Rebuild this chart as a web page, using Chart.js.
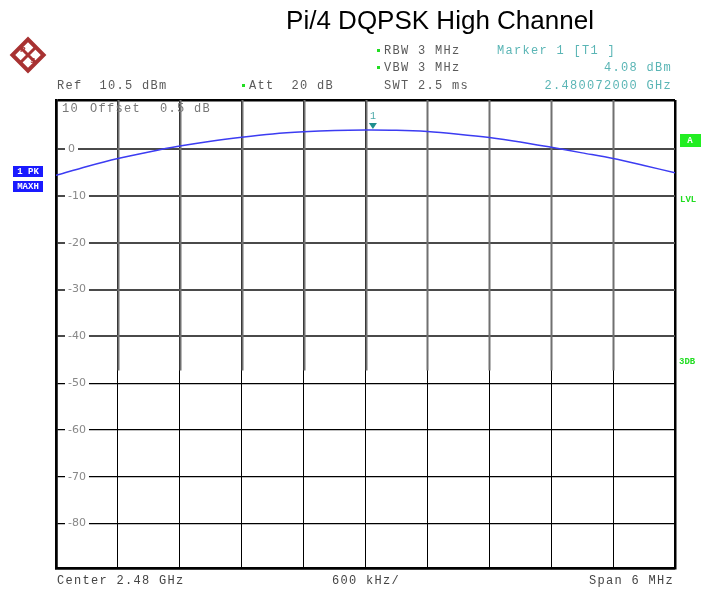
<!DOCTYPE html>
<html>
<head>
<meta charset="utf-8">
<script src="https://cdn.jsdelivr.net/npm/chart.js@4.4.1/dist/chart.umd.min.js"></script>
<style>
  body { margin: 0; background: #fff; }
  #wrap { position: relative; width: 707px; height: 592px; }
</style>
</head>
<body>
<div id="wrap"><canvas id="myChart" width="707" height="592"></canvas></div>
<script>
// trace (GHz / dBm)
const freqs = [2.4770, 2.4773, 2.4776, 2.4779, 2.4782, 2.4785, 2.4788, 2.4791, 2.4794, 2.4797,
               2.4800, 2.4803, 2.4806, 2.4809, 2.4812, 2.4815, 2.4818, 2.4821, 2.4824, 2.4827, 2.4830];
const levels = [-5.6, -3.7, -2.0, -0.6, 0.65, 1.7, 2.55, 3.25, 3.7, 3.98,
                4.07, 4.02, 3.75, 3.2, 2.5, 1.55, 0.4, -0.8, -2.0, -3.5, -5.05];
const xTicks = [2.4770, 2.4776, 2.4782, 2.4788, 2.4794, 2.4800, 2.4806, 2.4812, 2.4818, 2.4824, 2.4830];
const yTicks = [10.5, 0, -10, -20, -30, -40, -50, -60, -70, -80, -89.5];
const yLabels = ['0', '-10', '-20', '-30', '-40', '-50', '-60', '-70', '-80'];
const markerFreq = 2.480072;
const markerLevel = 4.08;

const mono = '"Liberation Mono", "DejaVu Sans Mono", monospace';

const screenText = {
  id: 'screenText',
  beforeDatasetsDraw(chart) {
    const c = chart.ctx, x = chart.scales.x, y = chart.scales.y;
    // upper part of the vertical grid looks grey on the screen shot
    c.save();
    c.strokeStyle = '#707070';
    c.lineWidth = 2;
    const yCut = y.getPixelForValue(-47.3);
    xTicks.slice(1, -1).forEach(v => {
      const px = Math.round(x.getPixelForValue(v)) + 0.5;
      c.beginPath(); c.moveTo(px, chart.chartArea.top); c.lineTo(px, yCut); c.stroke();
    });
    // level labels sitting on the grid lines
    c.font = '11px "DejaVu Sans", sans-serif';
    c.textBaseline = 'middle';
    yLabels.forEach(t => {
      const py = y.getPixelForValue(Number(t));
      const w = c.measureText(t).width;
      c.fillStyle = '#fff';
      c.fillRect(chart.chartArea.left + 9, py - 6, w + 6, 12);
      c.fillStyle = '#888';
      c.fillText(t, chart.chartArea.left + 12, py);
    });
    c.restore();
  },
  afterDraw(chart) {
    const c = chart.ctx, x = chart.scales.x, y = chart.scales.y;
    c.save();
    // marker
    const mx = x.getPixelForValue(markerFreq), my = y.getPixelForValue(markerLevel);
    c.fillStyle = '#1e8e8e';
    c.beginPath(); c.moveTo(mx - 4, my - 7); c.lineTo(mx + 4, my - 7); c.lineTo(mx, my - 1); c.closePath(); c.fill();
    c.font = '10px ' + mono;
    c.fillStyle = '#4aa8a8';
    c.textAlign = 'center';
    c.fillText('1', mx, my - 11);

    c.textAlign = 'left';
    c.textBaseline = 'middle';
    c.font = '12px ' + mono;
    c.letterSpacing = '1.3px';
    c.fillStyle = '#777';
    c.fillText('10', 62, 109);
    c.fillText('Offset', 90, 109);
    c.fillText('0.5 dB', 160, 109);

    // header
    c.fillStyle = '#5a5a5a';
    c.fillText('Ref  10.5 dBm', 57, 86);
    c.fillText('Att  20 dB', 249, 86);
    c.fillText('RBW 3 MHz', 384, 51);
    c.fillText('VBW 3 MHz', 384, 68);
    c.fillText('SWT 2.5 ms', 384, 86);
    c.fillStyle = '#22dd22';
    [[243, 85], [378, 50], [378, 67]].forEach(p => { c.fillRect(p[0] - 1, p[1] - 1, 3, 3); });
    c.fillStyle = '#5ab5b5';
    c.fillText('Marker 1 [T1 ]', 497, 51);
    c.textAlign = 'right';
    c.fillText('4.08 dBm', 672, 68);
    c.fillText('2.480072000 GHz', 672, 86);

    // footer
    c.fillStyle = '#444';
    c.textAlign = 'left';
    c.fillText('Center 2.48 GHz', 57, 581);
    c.fillText('600 kHz/', 332, 581);
    c.textAlign = 'right';
    c.fillText('Span 6 MHz', 674, 581);

    // side boxes
    c.letterSpacing = '0px';
    c.textAlign = 'center';
    c.font = 'bold 9px ' + mono;
    c.fillStyle = '#1a1aff';
    c.fillRect(13, 166, 30, 11);
    c.fillRect(13, 181, 30, 11);
    c.fillStyle = '#fff';
    c.fillText('1 PK', 28, 172);
    c.fillText('MAXH', 28, 187);
    c.fillStyle = '#22ee22';
    c.fillRect(680, 134, 21, 13);
    c.fillStyle = '#fff';
    c.fillText('A', 690, 141);
    c.fillStyle = '#22dd22';
    c.textAlign = 'left';
    c.fillText('LVL', 680, 200);
    c.fillText('3DB', 679, 362);

    // title
    c.fillStyle = '#000';
    c.textAlign = 'center';
    c.font = '26px "Liberation Sans", Arial, sans-serif';
    c.fillText('Pi/4 DQPSK High Channel', 440, 22);

    // logo
    c.translate(28, 55);
    c.rotate(Math.PI / 4);
    c.strokeStyle = '#a83232';
    c.lineWidth = 4;
    c.strokeRect(-11, -11, 22, 22);
    c.lineWidth = 3;
    c.beginPath(); c.moveTo(-11, 0); c.lineTo(11, 0); c.moveTo(0, -11); c.lineTo(0, 11); c.stroke();
    c.rotate(-Math.PI / 4);
    c.fillStyle = '#a83232';
    c.font = 'bold 8px "Liberation Sans", sans-serif';
    c.fillText('R', -5, -5);
    c.fillText('S', 5, 6);
    c.restore();
  }
};

new Chart(document.getElementById('myChart'), {
  type: 'line',
  data: {
    datasets: [{
      data: freqs.map((f, i) => ({ x: f, y: levels[i] })),
      borderColor: '#3c3cf2',
      borderWidth: 1.5,
      pointRadius: 0,
      tension: 0.3
    }]
  },
  options: {
    responsive: false,
    animation: false,
    layout: { padding: { left: 56, right: 32, top: 100, bottom: 24 } },
    plugins: { legend: { display: false }, tooltip: { enabled: false } },
    scales: {
      x: {
        type: 'linear', min: 2.477, max: 2.483,
        afterBuildTicks: s => { s.ticks = xTicks.map(v => ({ value: v })); },
        ticks: { display: false },
        grid: {
          drawTicks: false,
          color: '#000',
          lineWidth: ctx => (ctx.index === 0 || ctx.index === xTicks.length - 1) ? 2.5 : 1
        },
        border: { color: '#000', width: 2.5 }
      },
      y: {
        min: -89.5, max: 10.5,
        afterBuildTicks: s => { s.ticks = yTicks.map(v => ({ value: v })); },
        ticks: { display: false },
        grid: {
          drawTicks: false,
          color: ctx => (ctx.tick && ctx.tick.value >= -40 && ctx.tick.value < 10) ? '#4a4a4a' : '#000',
          lineWidth: ctx => (ctx.tick && (ctx.tick.value === 10.5 || ctx.tick.value === -89.5)) ? 2.5 :
                            (ctx.tick && ctx.tick.value >= -40) ? 2 : 1.2
        },
        border: { color: '#000', width: 2.5 }
      }
    }
  },
  plugins: [screenText]
});
</script>
</body>
</html>
